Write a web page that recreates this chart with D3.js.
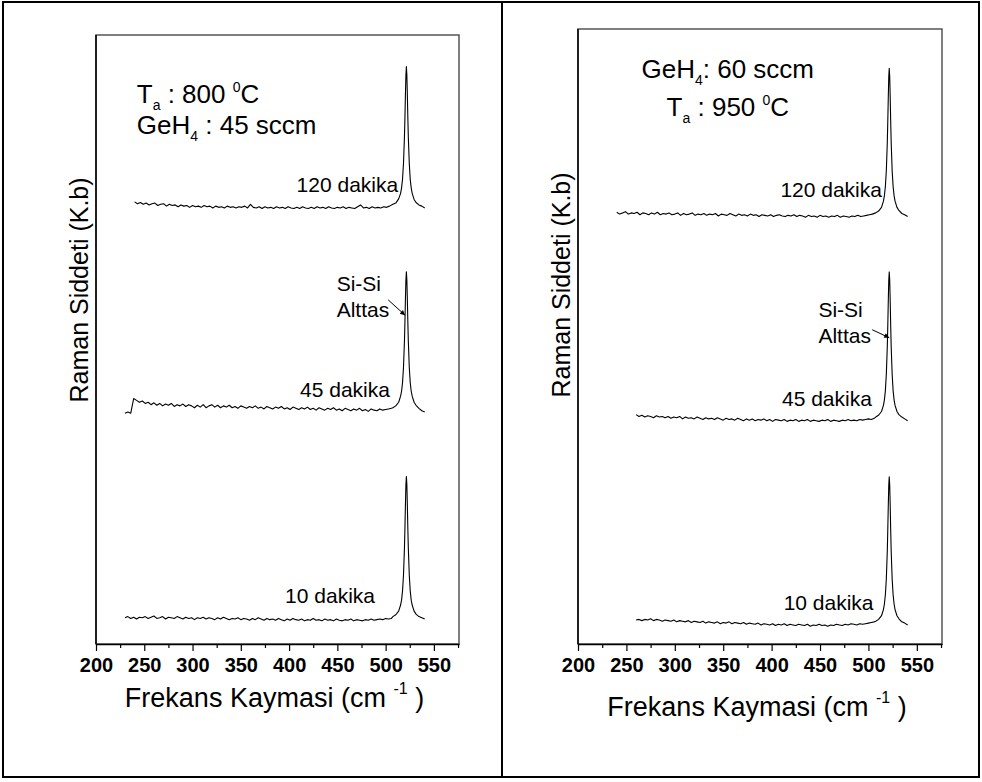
<!DOCTYPE html>
<html>
<head>
<meta charset="utf-8">
<script src="https://cdn.jsdelivr.net/npm/d3@7"></script>
<style>
  body { margin: 0; background: #fff; }
  text { font-family: Arial, "Liberation Sans", sans-serif; fill: #000; }
</style>
</head>
<body>
<div id="chart"></div>
<script>
// ---- data ----
const xTicks = [200, 250, 300, 350, 400, 450, 500, 550];
const xMinorTicks = [225, 275, 325, 375, 425, 475, 525, 575];
const xDomain = [200, 576];
const STEP = 3; // cm-1 between baseline samples

// shared x positions around the Si-Si peak
const peakX = [507.5, 510.5, 513.5, 515.5, 516.5, 517.5, 518.5, 519.5, 520, 520.5, 521, 521.5,
  522, 522.5, 523, 523.5, 524.5, 525.5, 526.5, 527.5, 529.5, 531.5, 534.5, 537.5, 540.5];

// left panel (800 C, 45 sccm)
const left120Start = 240;
const left120 = [72.6, 72.3, 72.5, 72.2, 72.4, 72.1, 72.3, 72.4, 72.0, 72.2,
  72.3, 71.9, 72.2, 72.0, 72.1, 71.8, 72.1, 71.9, 72.0, 71.7,
  72.0, 71.8, 71.9, 71.7, 72.0, 71.8, 71.9, 71.6, 71.9, 71.7,
  71.8, 71.6, 71.9, 71.7, 71.8, 71.6, 71.8, 71.7, 71.9, 71.6,
  72.2, 71.7, 71.6, 71.8, 71.5, 71.8, 71.6, 71.7, 71.5, 71.8,
  71.6, 71.7, 71.5, 71.8, 71.6, 71.5, 71.7, 71.5, 71.8, 71.6,
  71.5, 71.7, 71.5, 71.8, 71.6, 71.7, 71.5, 71.8, 71.6, 71.5,
  71.7, 71.6, 71.8, 71.5, 71.7, 71.6, 71.5, 71.8, 72.1, 71.6,
  71.7, 71.5, 71.8, 71.6, 71.7, 71.6, 71.8, 71.7, 71.9];
const left120Peak = [72.2, 72.4, 73.1, 74.0, 74.9, 76.3, 78.9, 83.3, 86.5, 90.2, 93.4, 94.8,
  93.4, 90.2, 86.5, 83.3, 78.9, 76.3, 74.9, 74.0, 73.0, 72.5, 72.1, 71.9, 71.6];

const left45Start = 230;
const left45 = [37.9, 38.1, 37.9, 40.3, 40.0, 39.7, 39.9, 39.5, 39.7, 39.3,
  39.6, 39.2, 39.5, 39.1, 39.4, 39.2, 39.5, 39.0, 39.3, 39.1,
  39.4, 39.0, 39.3, 39.1, 38.8, 39.2, 38.9, 39.3, 38.8, 39.1,
  39.3, 38.9, 39.2, 38.8, 39.1, 38.9, 39.2, 38.8, 39.0, 38.7,
  39.1, 38.9, 38.7, 39.0, 38.8, 39.1, 38.7, 38.9, 38.6, 39.0,
  38.8, 38.6, 38.9, 38.7, 39.0, 38.6, 38.8, 38.5, 38.9, 38.7,
  38.5, 38.8, 38.6, 38.9, 38.5, 38.7, 38.4, 38.8, 38.6, 38.4,
  38.7, 38.5, 38.8, 38.4, 38.6, 38.3, 38.7, 38.5, 38.3, 38.6,
  38.4, 38.7, 38.3, 38.5, 38.2, 38.6, 38.4, 38.3, 38.6, 38.4,
  38.5, 38.6, 38.7];
const left45Peak = [38.8, 39.1, 39.7, 40.7, 41.5, 42.9, 45.4, 49.8, 52.9, 56.6, 59.7, 61.1,
  59.7, 56.6, 52.9, 49.8, 45.4, 42.9, 41.5, 40.7, 39.7, 39.2, 38.7, 38.3, 38.1];

const left10Start = 230;
const left10 = [4.3, 4.5, 4.2, 4.4, 4.1, 4.4, 4.3, 4.5, 4.2, 4.4,
  4.6, 4.2, 4.3, 4.5, 4.1, 4.4, 4.3, 4.2, 4.5, 4.3,
  4.1, 4.4, 4.2, 4.3, 4.0, 4.3, 4.2, 4.4, 4.1, 4.3,
  4.2, 4.0, 4.3, 4.1, 4.4, 4.2, 4.0, 4.2, 4.1, 4.3,
  4.0, 4.2, 4.1, 3.9, 4.2, 4.0, 4.3, 4.1, 3.9, 4.2,
  4.0, 4.1, 3.9, 4.2, 4.0, 3.8, 4.1, 3.9, 4.2, 4.0,
  3.9, 4.1, 3.8, 4.0, 3.9, 4.2, 3.9, 4.0, 3.8, 4.1,
  3.9, 4.0, 3.8, 4.1, 3.9, 3.8, 4.0, 3.9, 4.1, 3.8,
  4.0, 3.9, 3.8, 4.0, 3.9, 4.1, 3.9, 4.0, 4.1, 4.0,
  4.2, 4.1, 4.2];
const left10Peak = [4.5, 4.8, 5.4, 6.4, 7.2, 8.7, 11.3, 15.8, 19.0, 22.8, 26.1, 27.5,
  26.1, 22.8, 19.0, 15.8, 11.3, 8.7, 7.2, 6.4, 5.4, 4.9, 4.5, 4.3, 4.1];

// right panel (950 C, 60 sccm)
const right120Start = 240;
const right120 = [70.2, 69.9, 70.1, 70.3, 69.9, 70.1, 70.0, 70.2, 69.8, 70.1,
  70.0, 69.8, 70.1, 69.9, 70.2, 69.8, 70.0, 69.9, 70.1, 69.8,
  69.9, 70.1, 69.7, 70.0, 69.8, 69.9, 70.1, 69.7, 69.9, 69.8,
  70.0, 69.7, 69.9, 69.8, 70.0, 69.6, 69.9, 69.8, 69.7, 70.0,
  69.8, 69.6, 69.9, 69.7, 69.8, 69.6, 69.9, 69.7, 69.8, 69.5,
  69.8, 69.7, 69.6, 69.8, 69.5, 69.7, 69.8, 69.6, 69.5, 69.7,
  69.6, 69.8, 69.5, 69.7, 69.6, 69.4, 69.7, 69.5, 69.6, 69.4,
  69.7, 69.5, 69.6, 69.4, 69.6, 69.5, 69.7, 69.4, 69.6, 69.5,
  69.4, 69.6, 69.5, 69.7, 69.5, 69.6, 69.7, 69.8, 69.9];
const right120Peak = [70.1, 70.4, 71.0, 72.0, 72.9, 74.4, 77.0, 81.6, 85.0, 88.8, 92.2, 93.6,
  92.2, 88.8, 85.0, 81.6, 77.0, 74.4, 72.9, 72.0, 71.0, 70.5, 70.0, 69.8, 69.5];

const right45Start = 260;
const right45 = [37.3, 37.0, 37.2, 36.9, 37.1, 37.0, 36.8, 37.1, 36.9, 37.0,
  36.8, 37.0, 36.7, 36.9, 36.8, 37.0, 36.6, 36.9, 36.7, 36.8,
  36.6, 36.9, 36.7, 36.5, 36.8, 36.6, 36.7, 36.5, 36.8, 36.6,
  36.4, 36.7, 36.5, 36.6, 36.4, 36.7, 36.5, 36.3, 36.6, 36.4,
  36.6, 36.3, 36.5, 36.4, 36.6, 36.3, 36.5, 36.2, 36.5, 36.4,
  36.3, 36.5, 36.2, 36.4, 36.3, 36.5, 36.2, 36.4, 36.3, 36.5,
  36.2, 36.4, 36.3, 36.2, 36.4, 36.3, 36.5, 36.2, 36.4, 36.3,
  36.2, 36.4, 36.3, 36.5, 36.3, 36.4, 36.3, 36.5, 36.4, 36.5,
  36.6, 36.5, 36.7];
const right45Peak = [36.9, 37.2, 37.8, 38.8, 39.7, 41.2, 43.9, 48.4, 51.8, 55.7, 59.1, 60.5,
  59.1, 55.7, 51.8, 48.4, 43.9, 41.2, 39.7, 38.8, 37.8, 37.3, 36.9, 36.6, 36.3];

const right10Start = 260;
const right10 = [3.9, 4.0, 3.8, 4.0, 3.9, 4.1, 3.8, 4.0, 3.9, 3.7,
  3.9, 3.8, 3.7, 3.9, 3.6, 3.8, 3.7, 3.6, 3.8, 3.5,
  3.7, 3.6, 3.5, 3.7, 3.4, 3.6, 3.5, 3.4, 3.6, 3.3,
  3.5, 3.4, 3.6, 3.3, 3.5, 3.4, 3.3, 3.5, 3.2, 3.4,
  3.3, 3.2, 3.4, 3.1, 3.3, 3.2, 3.1, 3.3, 3.0, 3.2,
  3.1, 3.3, 3.0, 3.2, 3.1, 3.0, 3.2, 3.1, 3.0, 3.2,
  2.9, 3.1, 3.0, 3.2, 3.0, 3.1, 2.9, 3.1, 3.0, 3.2,
  3.1, 3.0, 3.2, 3.1, 3.3, 3.2, 3.1, 3.3, 3.2, 3.3,
  3.4, 3.5, 3.6];
const right10Peak = [3.7, 4.0, 4.6, 5.6, 6.5, 8.0, 10.6, 15.2, 18.6, 22.4, 25.8, 27.2,
  25.8, 22.4, 18.6, 15.2, 10.6, 8.0, 6.5, 5.6, 4.6, 4.1, 3.6, 3.4, 3.1];

// labels in data coordinates (x in cm-1, y in arbitrary units)
const leftLabels = [
  { parts: [["120 dakika"]], x: 513, y: 74.2, anchor: "end" },
  { parts: [["Si-Si"]], x: 449.3, y: 58.0, anchor: "start" },
  { parts: [["Alttas"]], x: 449.3, y: 53.7, anchor: "start" },
  { parts: [["45 dakika"]], x: 504.5, y: 40.6, anchor: "end" },
  { parts: [["10 dakika"]], x: 489, y: 6.8, anchor: "end" }
];
const leftInfo = [
  { parts: [["T"], ["a", "sub"], [" : 800 "], ["0", "sup"], ["C"]], x: 242.2, y: 88.8 },
  { parts: [["GeH"], ["4", "sub"], [" : 45 sccm"]], x: 242.2, y: 83.7 }
];
const leftArrow = [[502.7, 56.5], [520.1, 54.0]];

const rightLabels = [
  { parts: [["120 dakika"]], x: 514, y: 72.7, anchor: "end" },
  { parts: [["Si-Si"]], x: 448.3, y: 53.2, anchor: "start" },
  { parts: [["Alttas"]], x: 448.3, y: 49.0, anchor: "start" },
  { parts: [["45 dakika"]], x: 503.6, y: 38.7, anchor: "end" },
  { parts: [["10 dakika"]], x: 505.3, y: 5.5, anchor: "end" }
];
const rightInfo = [
  { parts: [["GeH"], ["4", "sub"], [": 60 sccm"]], x: 265.6, y: 92.0 },
  { parts: [["T"], ["a", "sub"], [" : 950 "], ["0", "sup"], ["C"]], x: 291.5, y: 85.9 }
];
const rightArrow = [[503.9, 51.1], [521.5, 49.8]];

const yTitle = "Raman Siddeti (K.b)";

// ---- drawing ----
const W = 982, H = 782;
const svg = d3.select("#chart").append("svg")
  .attr("width", W).attr("height", H);

svg.append("defs").append("marker")
  .attr("id", "arrow")
  .attr("viewBox", "0 0 10 10")
  .attr("refX", 10).attr("refY", 5)
  .attr("markerWidth", 7).attr("markerHeight", 5)
  .attr("orient", "auto")
  .append("path")
  .attr("d", "M0,0 L10,5 L0,10 z")
  .attr("fill", "#000");

// outer table border and divider
svg.append("rect")
  .attr("x", 3).attr("y", 2).attr("width", 976).attr("height", 775)
  .attr("fill", "none").attr("stroke", "#000").attr("stroke-width", 2);
svg.append("line")
  .attr("x1", 502).attr("x2", 502).attr("y1", 2).attr("y2", 777)
  .attr("stroke", "#000").attr("stroke-width", 2);

function buildSeries(start, base, peak) {
  const pts = base.map((v, i) => ({ x: start + i * STEP, y: v }))
    .filter(d => d.x < peakX[0]);
  return pts.concat(peak.map((v, i) => ({ x: peakX[i], y: v })));
}

function richText(g, item, xs, ys, size) {
  const t = g.append("text")
    .attr("x", xs(item.x)).attr("y", ys(item.y))
    .attr("text-anchor", item.anchor || "start")
    .style("font-size", size + "px");
  let shift = 0;
  item.parts.forEach(p => {
    let target = 0, fs = size;
    if (p[1] === "sub") { target = 7; fs = 14; }
    if (p[1] === "sup") { target = -11; fs = 14; }
    t.append("tspan")
      .attr("dy", target - shift)
      .style("font-size", fs + "px")
      .text(p[0]);
    shift = target;
  });
}

function drawPanel(cfg) {
  const x = d3.scaleLinear().domain(xDomain).range([cfg.left, cfg.right]);
  const y = d3.scaleLinear().domain([0, 100]).range([cfg.bottom, cfg.top]);
  const g = svg.append("g");

  // frame
  g.append("rect")
    .attr("x", cfg.left).attr("y", cfg.top)
    .attr("width", cfg.right - cfg.left).attr("height", cfg.bottom - cfg.top)
    .attr("fill", "none").attr("stroke", "#555").attr("stroke-width", 1.5);
  g.append("line")
    .attr("x1", cfg.left).attr("x2", cfg.left)
    .attr("y1", cfg.top).attr("y2", cfg.bottom)
    .attr("stroke", "#000").attr("stroke-width", 1.5);

  // bottom axis, major + minor
  const ax = g.append("g")
    .attr("transform", `translate(0,${cfg.bottom})`)
    .call(d3.axisBottom(x).tickValues(xTicks).tickSize(7).tickSizeOuter(0).tickPadding(7));
  ax.select(".domain").attr("stroke", "#000").attr("stroke-width", 1.5);
  ax.selectAll(".tick line").attr("stroke", "#000").attr("stroke-width", 1.2);
  ax.selectAll(".tick text")
    .style("font-size", "20px").style("font-weight", "bold")
    .style("font-family", "Arial, 'Liberation Sans', sans-serif");

  const mx = g.append("g")
    .attr("transform", `translate(0,${cfg.bottom})`)
    .call(d3.axisBottom(x).tickValues(xMinorTicks).tickSize(4).tickSizeOuter(0).tickFormat(""));
  mx.select(".domain").remove();
  mx.selectAll(".tick line").attr("stroke", "#000").attr("stroke-width", 1.2);

  // spectra
  const line = d3.line().x(d => x(d.x)).y(d => y(d.y));
  cfg.series.forEach(s => {
    g.append("path")
      .datum(buildSeries(s[0], s[1], s[2]))
      .attr("fill", "none")
      .attr("stroke", "#000")
      .attr("stroke-width", 1.1)
      .attr("stroke-linejoin", "round")
      .attr("d", line);
  });

  cfg.labels.forEach(l => richText(g, l, x, y, 21));
  cfg.info.forEach(l => richText(g, l, x, y, 26));

  g.append("line")
    .attr("x1", x(cfg.arrow[0][0])).attr("y1", y(cfg.arrow[0][1]))
    .attr("x2", x(cfg.arrow[1][0])).attr("y2", y(cfg.arrow[1][1]))
    .attr("stroke", "#000").attr("stroke-width", 1)
    .attr("marker-end", "url(#arrow)");

  // axis titles
  g.append("text")
    .attr("transform", `translate(${cfg.yTitleX},${cfg.yTitleY}) rotate(-90)`)
    .attr("text-anchor", "middle")
    .style("font-size", "25px")
    .text(yTitle);

  const xt = g.append("text")
    .attr("x", (cfg.left + cfg.right) / 2 - 3)
    .attr("y", cfg.xTitleY)
    .attr("text-anchor", "middle")
    .style("font-size", "27px");
  xt.append("tspan").text("Frekans Kaymasi (cm ");
  xt.append("tspan").attr("dy", -13).style("font-size", "16px").text("-1");
  xt.append("tspan").attr("dy", 13).text(" )");
}

drawPanel({
  left: 96, right: 459, top: 35, bottom: 644,
  series: [[left120Start, left120, left120Peak], [left45Start, left45, left45Peak], [left10Start, left10, left10Peak]],
  labels: leftLabels, info: leftInfo, arrow: leftArrow,
  yTitleX: 88, yTitleY: 290, xTitleY: 707
});
drawPanel({
  left: 578, right: 942, top: 29, bottom: 644,
  series: [[right120Start, right120, right120Peak], [right45Start, right45, right45Peak], [right10Start, right10, right10Peak]],
  labels: rightLabels, info: rightInfo, arrow: rightArrow,
  yTitleX: 570, yTitleY: 285, xTitleY: 716
});
</script>
</body>
</html>
